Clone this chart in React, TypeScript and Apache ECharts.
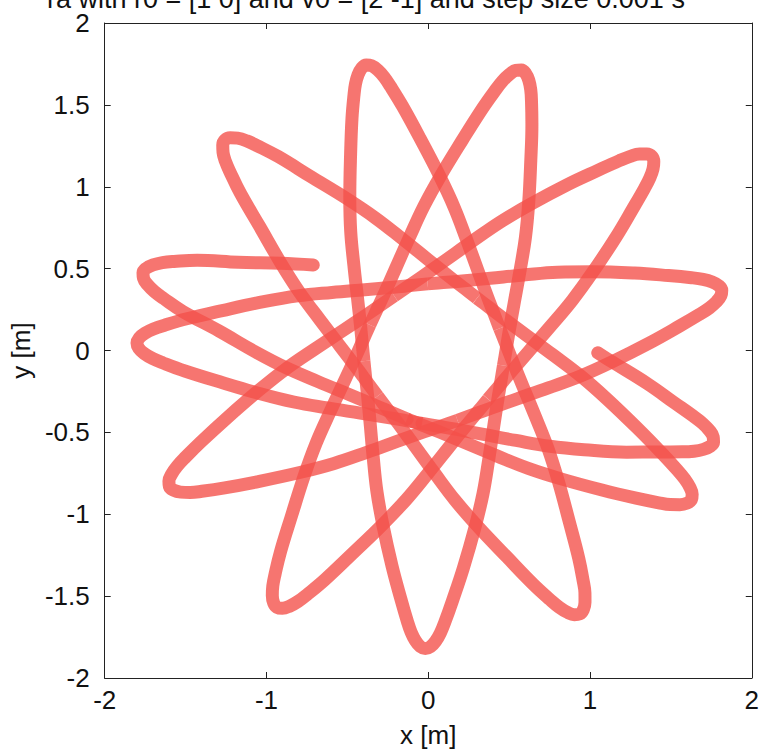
import React, { useEffect, useRef } from "react";
import * as echarts from "echarts";

// Trajectory as [radius (m), angle (deg, counter-clockwise from +x)],
// one list per petal, each ending at the next closest approach to the centre.
const startLeg = [[1.0, 0.4], [1.088, 357.5], [1.32, 352], [1.50, 348.5], [1.63, 346.5], [1.695, 345.5], [1.745, 344.5], [1.778, 343.5], [1.79, 342.5],
  [1.778, 341.5], [1.745, 340.5], [1.695, 339.5], [1.63, 338.5], [1.50, 336.5], [1.32, 333], [1.088, 327.5], [0.905, 321.5], [0.728, 313.5], [0.577, 301.7], [0.478, 286.1], [0.44, 272.3],
  [0.43, 260.2]];
const leg1 = [[0.44, 248.1], [0.478, 234.3], [0.577, 218.7], [0.728, 206.9], [0.905, 198.9], [1.088, 192.9], [1.32, 187.4], [1.525, 183.9], [1.655, 181.9], [1.72, 180.9], [1.77, 179.9], [1.803, 178.9],
  [1.815, 177.9],
  [1.803, 176.9], [1.77, 175.9], [1.72, 174.9], [1.655, 173.9], [1.525, 171.9], [1.32, 168.4], [1.088, 162.9], [0.905, 156.9], [0.728, 148.9], [0.577, 137.1], [0.478, 121.5], [0.44, 107.7],
  [0.43, 95.2]];
const leg2 = [[0.44, 82.7], [0.478, 68.9], [0.577, 53.3], [0.728, 41.5], [0.905, 33.5], [1.088, 27.5], [1.32, 22], [1.51, 18.5], [1.64, 16.5], [1.705, 15.5], [1.755, 14.5], [1.788, 13.5],
  [1.80, 12.5],
  [1.788, 11.5], [1.755, 10.5], [1.705, 9.5], [1.64, 8.5], [1.51, 6.5], [1.32, 3], [1.088, 357.5], [0.905, 351.5], [0.728, 343.5], [0.577, 331.7], [0.478, 316.1], [0.44, 302.3],
  [0.43, 289.5]];
const leg3 = [[0.44, 276.8], [0.478, 263], [0.577, 247.4], [0.728, 235.6], [0.905, 227.6], [1.088, 221.6], [1.32, 216.1], [1.517, 212.6], [1.647, 210.6], [1.712, 209.6], [1.762, 208.6], [1.795, 207.6],
  [1.807, 206.6],
  [1.795, 205.6], [1.762, 204.6], [1.712, 203.6], [1.647, 202.6], [1.517, 200.6], [1.32, 197.1], [1.088, 191.6], [0.905, 185.6], [0.728, 177.6], [0.577, 165.8], [0.478, 150.2], [0.44, 136.4],
  [0.43, 124.4]];
const leg4 = [[0.44, 112.4], [0.478, 98.6], [0.577, 83], [0.728, 71.2], [0.905, 63.2], [1.088, 57.2], [1.32, 51.7], [1.506, 48.2], [1.636, 46.2], [1.701, 45.2], [1.751, 44.2], [1.784, 43.2],
  [1.796, 42.2],
  [1.784, 41.2], [1.751, 40.2], [1.701, 39.2], [1.636, 38.2], [1.506, 36.2], [1.32, 32.7], [1.088, 27.2], [0.905, 21.2], [0.728, 13.2], [0.577, 1.4], [0.478, 345.8], [0.44, 332],
  [0.43, 320.2]];
const leg5 = [[0.44, 308.4], [0.478, 294.6], [0.577, 279], [0.728, 267.2], [0.905, 259.2], [1.088, 253.2], [1.32, 247.7], [1.53, 244.2], [1.66, 242.2], [1.725, 241.2], [1.775, 240.2], [1.808, 239.2],
  [1.82, 238.2],
  [1.808, 237.2], [1.775, 236.2], [1.725, 235.2], [1.66, 234.2], [1.53, 232.2], [1.32, 228.7], [1.088, 223.2], [0.905, 217.2], [0.728, 209.2], [0.577, 197.4], [0.478, 181.8], [0.44, 168],
  [0.43, 155.6]];
const leg6 = [[0.44, 143.1], [0.478, 129.3], [0.577, 113.7], [0.728, 101.9], [0.905, 93.9], [1.088, 87.9], [1.32, 82.4], [1.524, 78.9], [1.654, 76.9], [1.719, 75.9], [1.769, 74.9], [1.802, 73.9],
  [1.814, 72.9],
  [1.802, 71.9], [1.769, 70.9], [1.719, 69.9], [1.654, 68.9], [1.524, 66.9], [1.32, 63.4], [1.088, 57.9], [0.905, 51.9], [0.728, 43.9], [0.577, 32.1], [0.478, 16.5], [0.44, 2.7],
  [0.43, 350.6]];
const leg7 = [[0.44, 338.5], [0.478, 324.7], [0.577, 309.1], [0.728, 297.3], [0.905, 289.3], [1.088, 283.3], [1.32, 277.8], [1.51, 274.3], [1.64, 272.3], [1.705, 271.3], [1.755, 270.3], [1.788, 269.3],
  [1.80, 268.3],
  [1.788, 267.3], [1.755, 266.3], [1.705, 265.3], [1.64, 264.3], [1.51, 262.3], [1.32, 258.8], [1.088, 253.3], [0.905, 247.3], [0.728, 239.3], [0.577, 227.5], [0.478, 211.9], [0.44, 198.1],
  [0.43, 185.8]];
const leg8 = [[0.44, 173.4], [0.478, 159.6], [0.577, 144], [0.728, 132.2], [0.905, 124.2], [1.088, 118.2], [1.32, 112.7], [1.523, 109.2], [1.653, 107.2], [1.718, 106.2], [1.768, 105.2], [1.801, 104.2],
  [1.813, 103.2],
  [1.801, 102.2], [1.768, 101.2], [1.718, 100.2], [1.653, 99.2], [1.523, 97.2], [1.32, 93.7], [1.088, 88.2], [0.905, 82.2], [0.728, 74.2], [0.577, 62.4], [0.478, 46.8], [0.44, 33],
  [0.43, 21.3]];
const leg9 = [[0.44, 9.5], [0.478, 355.7], [0.577, 340.1], [0.728, 328.3], [0.905, 320.3], [1.088, 314.3], [1.32, 308.8], [1.53, 305.3], [1.66, 303.3], [1.725, 302.3], [1.775, 301.3], [1.808, 300.3],
  [1.82, 299.3],
  [1.808, 298.3], [1.775, 297.3], [1.725, 296.3], [1.66, 295.3], [1.53, 293.3], [1.32, 289.8], [1.088, 284.3], [0.905, 278.3], [0.728, 270.3], [0.577, 258.5], [0.478, 242.9], [0.44, 229.1],
  [0.43, 216.8]];
const leg10 = [[0.44, 204.5], [0.478, 190.7], [0.577, 175.1], [0.728, 163.3], [0.905, 155.3], [1.088, 149.3], [1.32, 143.8], [1.537, 140.3], [1.667, 138.3], [1.732, 137.3], [1.782, 136.3], [1.815, 135.3],
  [1.827, 134.3],
  [1.815, 133.3], [1.782, 132.3], [1.732, 131.3], [1.667, 130.3], [1.537, 128.3], [1.32, 124.8], [1.088, 119.3], [0.905, 113.3], [0.728, 105.3], [0.577, 93.5], [0.478, 77.9], [0.44, 64.1],
  [0.43, 52.4]];
const leg11 = [[0.44, 40.7], [0.478, 26.9], [0.577, 11.3], [0.728, 359.5], [0.905, 351.5], [1.088, 345.5], [1.32, 340], [1.516, 336.5], [1.646, 334.5], [1.711, 333.5], [1.761, 332.5], [1.794, 331.5],
  [1.806, 330.5],
  [1.794, 329.5], [1.761, 328.5], [1.711, 327.5], [1.646, 326.5], [1.516, 324.5], [1.32, 321], [1.088, 315.5], [0.905, 309.5], [0.728, 301.5], [0.577, 289.7], [0.478, 274.1], [0.44, 260.3],
  [0.43, 247.5]];
const endLeg = [[0.44, 234.6], [0.478, 220.8], [0.577, 205.2], [0.728, 193.4], [0.905, 185.4], [1.088, 179.4], [1.32, 173.9], [1.555, 170.4], [1.685, 168.4], [1.75, 167.4], [1.80, 166.4], [1.833, 165.4],
  [1.845, 164.4],
  [1.833, 163.4], [1.80, 162.4], [1.75, 161.4], [1.685, 160.4], [1.555, 158.4], [1.32, 154.9], [1.088, 149.4], [0.916, 143.6]];

const xTickStep = 1;
const yTickStep = 0.5;
const titleText = "ra with r0 = [1 0] and v0 = [2 -1] and step size 0.001 s";
const xName = "x [m]";
const yName = "y [m]";

const FONT = "'Liberation Sans', Arial, Helvetica, sans-serif";

export default function App() {
  const ref = useRef<HTMLDivElement>(null);
  useEffect(() => {
    if (!ref.current) return;
    const chart = echarts.init(ref.current, undefined, { renderer: "svg" });
    const legs = [startLeg, leg1, leg2, leg3, leg4, leg5, leg6, leg7, leg8, leg9, leg10, leg11, endLeg];
    const series = legs.map((leg, i) => {
      const data = i === 0 ? leg : [legs[i - 1][legs[i - 1].length - 1], ...leg];
      const first = i === 0;
      const last = i === legs.length - 1;
      return {
        type: "line",
        coordinateSystem: "polar",
        data,
        showSymbol: false,
        symbol: "none",
        smooth: 0.4,
        silent: true,
        clip: false,
        lineStyle: {
          width: 13,
          color: "rgb(243,80,73)",
          opacity: 0.79,
          cap: first || last ? "round" : "butt",
          join: "round",
        },
      };
    });
    const axisLine = { show: true, onZero: false, lineStyle: { color: "#222", width: 1 } };
    const tick = { show: true, inside: true, length: 6, lineStyle: { color: "#222", width: 1 } };
    const label = { fontSize: 26, color: "#111", fontFamily: FONT };
    chart.setOption({
      animation: false,
      backgroundColor: "#ffffff",
      textStyle: { fontFamily: FONT },
      grid: { left: 99, top: 23, width: 655, height: 655, containLabel: false },
      xAxis: [
        {
          type: "value", min: -2, max: 2, interval: xTickStep, position: "bottom",
          axisLine, axisTick: tick, splitLine: { show: false },
          axisLabel: { ...label, margin: 9 },
          name: xName, nameLocation: "middle", nameGap: 44,
          nameTextStyle: { fontSize: 26, color: "#111", fontFamily: FONT },
        },
        {
          type: "value", min: -2, max: 2, interval: xTickStep, position: "top",
          axisLine, axisTick: tick, splitLine: { show: false }, axisLabel: { show: false },
        },
      ],
      yAxis: [
        {
          type: "value", min: -2, max: 2, interval: yTickStep, position: "left",
          axisLine, axisTick: tick, splitLine: { show: false },
          axisLabel: { ...label, margin: 15 },
          name: yName, nameLocation: "middle", nameGap: 62,
          nameTextStyle: { fontSize: 26, color: "#111", fontFamily: FONT },
        },
        {
          type: "value", min: -2, max: 2, interval: yTickStep, position: "right",
          axisLine, axisTick: tick, splitLine: { show: false }, axisLabel: { show: false },
        },
      ],
      polar: { center: [434, 354], radius: 327.5 },
      angleAxis: {
        type: "value", min: 0, max: 360, startAngle: 0, clockwise: false, show: false,
        axisLine: { show: false }, splitLine: { show: false }, axisTick: { show: false }, axisLabel: { show: false },
      },
      radiusAxis: {
        type: "value", min: 0, max: 2, show: false,
        axisLine: { show: false }, splitLine: { show: false }, axisTick: { show: false }, axisLabel: { show: false },
      },
      series,
      graphic: [
        {
          type: "text",
          x: 47,
          y: 12,
          style: {
            text: titleText,
            fontSize: 27,
            fontFamily: FONT,
            fill: "#111",
            verticalAlign: "bottom",
            textVerticalAlign: "bottom",
          },
        },
      ],
    });
    return () => chart.dispose();
  }, []);
  return (
    <div
      ref={ref}
      style={{ position: "fixed", left: 0, top: 0, width: 762, height: 755, background: "#fff" }}
    />
  );
}
